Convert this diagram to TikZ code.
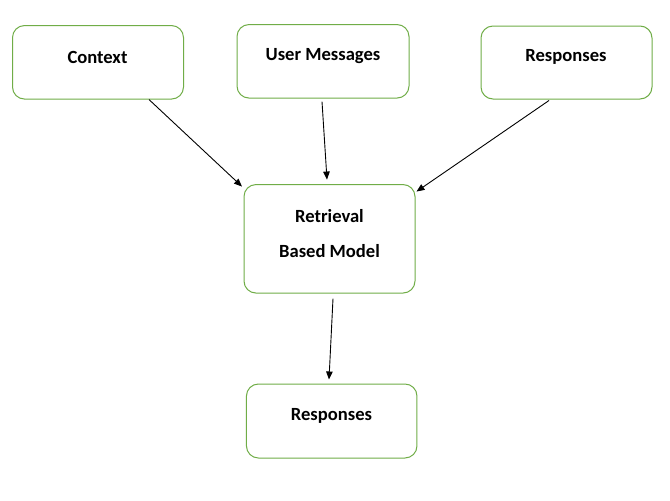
\documentclass[tikz,border=0pt]{standalone}
\usepackage{fontspec}
\setmainfont{Carlito}
\usetikzlibrary{arrows.meta}
\definecolor{boxgreen}{HTML}{70AD47}
\tikzset{
  box/.style={draw=boxgreen, line width=1pt, rounded corners=12pt, minimum width=#1, inner sep=0pt, fill=white},
  lbl/.style={font=\fontsize{18.6}{22}\selectfont\bfseries, inner sep=0pt, anchor=center},
  conn/.style={draw=black, line width=0.9pt, -{Triangle[length=8pt,width=6.5pt]}}
}
\begin{document}
\begin{tikzpicture}[x=1pt,y=-1pt]
\useasboundingbox (0,0) rectangle (670,501);
\fill[white] (0,0) rectangle (670,501);
% boxes
\node[box=171pt, minimum height=73.5pt] (ctx) at (98,62.3) {};
\node[box=172pt, minimum height=73.5pt] (usr) at (323,61.3) {};
\node[box=171pt, minimum height=73pt] (rsp1) at (566.5,62.5) {};
\node[box=171pt, minimum height=108.5pt] (ret) at (329.5,238.8) {};
\node[box=170.5pt, minimum height=74pt] (rsp2) at (331.7,421) {};
% labels
\node[lbl] (ctxT) at (97.5,57) {Context};
\node[lbl] (usrT) at (323,56) {User Messages};
\node[lbl] (rsp1T) at (566,57) {Responses};
\node[lbl] (retT1) at (329.5,216) {Retrieval};
\node[lbl] (retT2) at (329.5,251) {Based Model};
\node[lbl] (rsp2T) at (331.5,416) {Responses};
% connectors
\draw[conn] ([xshift=51pt]ctx.south) -- ([xshift=-87.5pt,yshift=-2.5pt]ret.north);
\draw[conn] ([xshift=-1pt,yshift=-3pt]usr.south) -- ([xshift=-2.5pt,yshift=4.5pt]ret.north);
\draw[conn] ([xshift=-17.5pt,yshift=-1pt]rsp1.south) -- ([xshift=1pt,yshift=-7.5pt]ret.north east);
\draw[conn] ([xshift=3.5pt,yshift=-5pt]ret.south) -- ([xshift=-2.7pt,yshift=4pt]rsp2.north);
\end{tikzpicture}
\end{document}
